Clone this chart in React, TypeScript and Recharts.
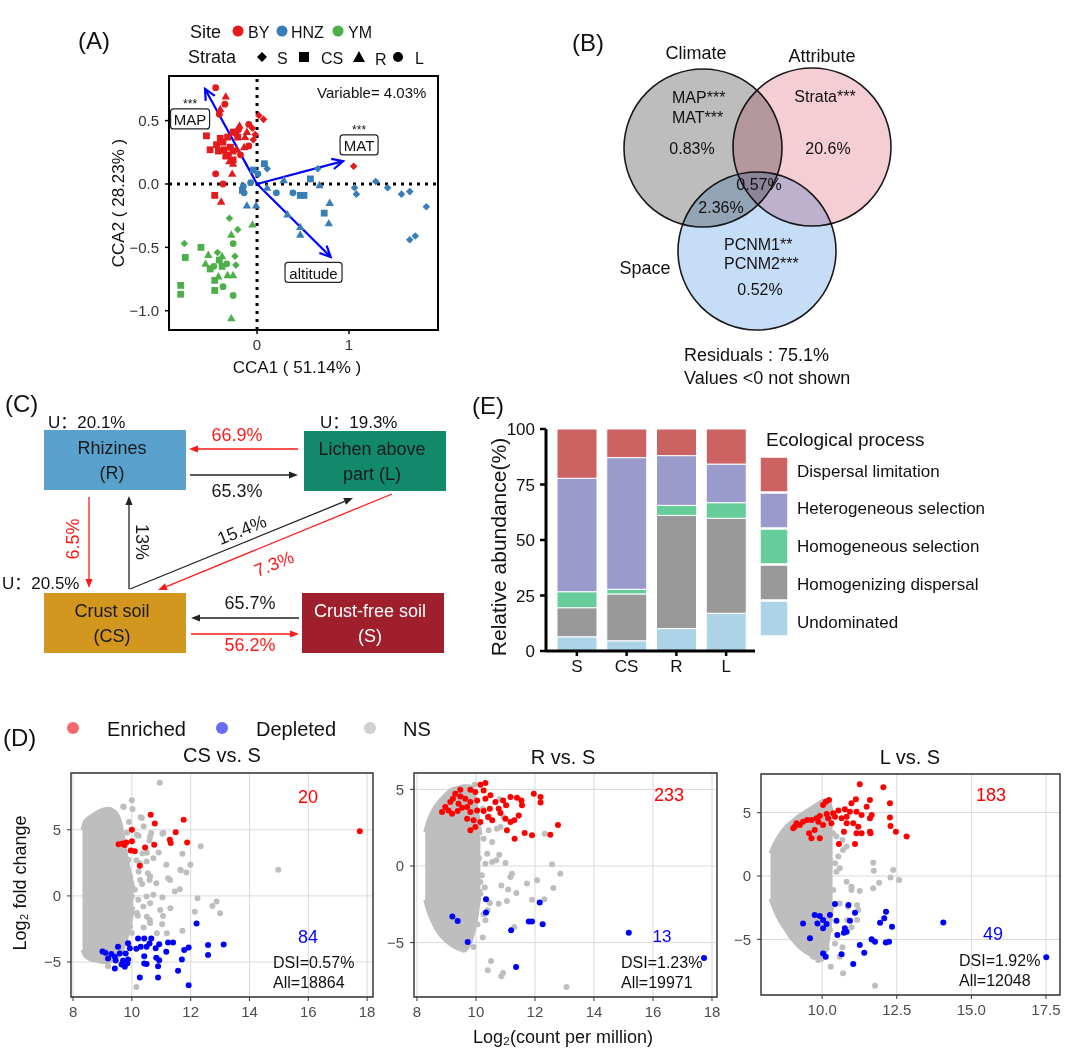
import React from "react";
import {
  ScatterChart,
  Scatter,
  XAxis,
  YAxis,
  ReferenceLine,
  ReferenceArea,
  BarChart,
  Bar,
  ComposedChart,
  Area,
  CartesianGrid,
} from "recharts";

const FONT = "Arial, 'Liberation Sans', 'Noto Sans CJK SC', sans-serif";
const minus = (v: number, d = 0) => (v < 0 ? "\u2212" : "") + Math.abs(v).toFixed(d);

// ---------- (A) CCA ordination ----------
const siteNames = ["BY", "HNZ", "YM"];
const siteColors = ["#e41a1c", "#377eb8", "#4daf4a"];
const strataNames = ["S", "CS", "R", "L"];

const byPoints: [number, number, string][] = [
  [-0.45, 0.76, "L"], [-0.34, 0.69, "R"], [-0.35, 0.63, "L"], [-0.4, 0.59, "R"], [-0.41, 0.55, "L"],
  [0.02, 0.54, "S"], [0.07, 0.51, "S"], [-0.09, 0.47, "L"], [-0.05, 0.44, "S"], [-0.19, 0.46, "R"],
  [-0.55, 0.38, "CS"], [-0.51, 0.27, "CS"], [-0.4, 0.36, "CS"], [-0.37, 0.33, "CS"], [-0.32, 0.37, "CS"],
  [-0.26, 0.41, "CS"], [-0.22, 0.4, "R"], [-0.2, 0.43, "L"], [-0.21, 0.37, "CS"], [-0.13, 0.37, "R"],
  [-0.11, 0.41, "R"], [-0.04, 0.35, "S"], [-0.09, 0.3, "L"], [-0.14, 0.29, "R"], [-0.44, 0.31, "CS"],
  [-0.36, 0.27, "CS"], [-0.29, 0.29, "CS"], [-0.26, 0.26, "CS"], [-0.31, 0.23, "L"], [-0.34, 0.22, "CS"],
  [-0.26, 0.19, "CS"], [-0.26, 0.16, "R"], [-0.18, 0.23, "L"], [-0.22, 0.27, "R"], [-0.45, 0.08, "L"],
  [-0.27, 0.08, "R"], [-0.37, 0.0, "L"], [-0.46, -0.09, "CS"], [-0.39, -0.14, "R"], [1.05, 0.14, "S"],
  [-0.02, 0.39, "S"], [-0.3, 0.18, "R"], [-0.42, 0.26, "CS"],
];
const hnzPoints: [number, number, string][] = [
  [0.08, 0.16, "CS"], [0.11, 0.12, "S"], [-0.04, 0.11, "CS"], [0.01, 0.08, "L"], [0.58, 0.04, "CS"],
  [0.66, 0.12, "S"], [0.29, 0.03, "R"], [-0.07, 0.01, "L"], [-0.15, -0.02, "L"], [-0.16, -0.05, "CS"],
  [-0.14, -0.07, "L"], [0.11, -0.03, "R"], [0.21, -0.07, "L"], [0.39, -0.07, "L"], [0.47, -0.09, "CS"],
  [0.51, -0.09, "CS"], [0.68, -0.01, "R"], [-0.11, -0.17, "R"], [-0.01, -0.17, "R"], [0.33, -0.24, "R"],
  [0.73, -0.23, "CS"], [0.79, -0.15, "R"], [0.78, -0.31, "R"], [0.47, -0.34, "R"], [0.47, -0.4, "R"],
  [1.06, -0.03, "S"], [1.08, -0.08, "S"], [1.29, 0.02, "S"], [1.42, -0.03, "S"], [1.57, -0.08, "S"],
  [1.66, -0.06, "S"], [1.84, -0.18, "S"], [1.66, -0.44, "S"], [1.72, -0.41, "S"],
];
const ymPoints: [number, number, string][] = [
  [-0.3, -0.27, "S"], [-0.21, -0.36, "S"], [-0.05, -0.32, "R"], [-0.28, -0.4, "R"], [-0.26, -0.47, "L"],
  [-0.79, -0.47, "S"], [-0.61, -0.5, "CS"], [-0.78, -0.58, "CS"], [-0.53, -0.56, "R"], [-0.43, -0.54, "S"],
  [-0.24, -0.57, "S"], [-0.23, -0.64, "S"], [-0.41, -0.6, "CS"], [-0.38, -0.65, "CS"], [-0.38, -0.57, "R"],
  [-0.33, -0.63, "L"], [-0.56, -0.63, "R"], [-0.51, -0.67, "CS"], [-0.46, -0.76, "CS"], [-0.42, -0.73, "R"],
  [-0.32, -0.72, "R"], [-0.26, -0.72, "R"], [-0.37, -0.81, "L"], [-0.46, -0.84, "CS"], [-0.26, -0.88, "L"],
  [-0.83, -0.8, "CS"], [-0.83, -0.87, "CS"], [-0.28, -1.06, "R"], [-0.47, -0.65, "L"],
];
const envVars = ["MAP", "MAT", "altitude"];
const envX = [-0.565, 0.935, 0.8];
const envY = [0.75, 0.18, -0.575];
const envLabelX = [-0.728, 1.109, 0.614];
const envLabelY = [0.513, 0.308, -0.698];
const envSig = ["***", "***", ""];

// ---------- (B) variation partitioning ----------
const vennSets = ["Climate", "Attribute", "Space"];
const vennCx = [143, 252, 197];
const vennCy = [148, 147, 251];
const vennR = [79, 79, 79];

// ---------- (C) source tracking flow ----------
const nodeLine1 = ["Rhizines", "Lichen above", "Crust soil", "Crust-free soil"];
const nodeLine2 = ["(R)", "part (L)", "(CS)", "(S)"];
const nodeX0 = [44, 304, 44, 302];
const nodeX1 = [186, 446, 186, 444];
const nodeY0 = [40, 41, 203, 203];
const nodeY1 = [100, 101, 263, 263];
const flowFrom = [[298, 59], [190, 85], [89, 107], [129, 199], [130, 199], [392, 104], [299, 228], [191, 244]];
const flowTo = [[189, 59], [298, 85], [89, 198], [129, 106], [353, 108], [158, 200], [191, 228], [299, 244]];
const flowRed = [true, false, true, false, false, true, false, true];
const flowText = ["66.9%", "65.3%", "6.5%", "13%", "15.4%", "7.3%", "65.7%", "56.2%"];
const flowTextX = [237, 237, 73, 142, 242, 274, 250, 250];
const flowTextY = [45, 101, 149, 152, 140, 174, 213, 255];
const flowTextRot = [0, 0, -90, 90, -22, -22, 0, 0];

// ---------- (E) ecological processes ----------
const strataCats = ["S", "CS", "R", "L"];
const undominated = [6.4, 4.6, 10.1, 17.0];
const homogenizing = [13.1, 21.1, 51.0, 42.8];
const homoSelection = [7.2, 2.1, 4.5, 7.0];
const heteroSelection = [51.1, 59.3, 22.4, 17.4];
const dispersalLim = [22.2, 12.9, 12.0, 15.8];
const processNames = [
  "Dispersal limitation",
  "Heterogeneous selection",
  "Homogeneous selection",
  "Homogenizing dispersal",
  "Undominated",
];

// ---------- (D) MA plots ----------
const csCloudX = [8.32, 8.4, 8.6, 8.8, 9.0, 9.2, 9.4, 9.6, 9.75, 9.9, 10.05];
const csCloudLo = [-4.1, -4.5, -4.8, -4.9, -5.0, -5.0, -4.8, -4.4, -3.6, -2.5, -0.8];
const csCloudHi = [5.0, 5.6, 6.0, 6.3, 6.5, 6.6, 6.4, 5.6, 3.8, 2.0, 0.6];
const csNs: [number, number][] = [
  [10.95, 8.56], [10.0, 7.24], [9.72, 6.73], [10.02, 6.58], [10.3, 5.95], [10.4, 5.27], [11.04, 4.71],
  [10.23, 4.56], [10.66, 4.76], [12.34, 3.75], [11.72, 3.19], [10.91, 3.29], [11.99, 2.35], [11.85, 1.77],
  [11.66, 1.95], [14.98, 1.97], [11.23, 1.34], [10.83, 0.96], [10.54, 1.72], [10.23, 1.85], [11.63, 0.51],
  [11.46, 0.33], [12.23, -0.18], [12.88, -0.43], [12.74, -0.76], [13.0, -1.32], [12.14, -1.19], [11.31, -0.94],
  [11.04, -0.1], [11.06, -1.52], [10.61, -1.82], [11.03, -2.15], [11.72, -2.63], [10.15, -6.89], [9.19, -5.32],
  [10.39, -0.81], [10.22, -0.3], [10.1, 0.46], [10.5, -0.05], [10.73, 0.08], [10.27, 2.47], [10.5, 2.6],
  [10.73, 2.85], [10.15, 2.7], [11.17, 2.35], [10.36, 3.2], [10.6, 4.2], [9.9, 5.6], [10.2, -1.5],
  [10.4, -2.4], [10.0, -2.8], [9.9, -1.0], [10.6, 1.2], [10.35, 0.9],
  [9.71, 6.77], [9.6, 5.15], [9.83, 4.77], [10.17, 4.62], [10.34, 5.9], [10.62, 4.5], [9.6, 3.26],
  [9.88, 2.73], [9.49, 1.97], [9.94, 1.46], [10.28, 1.21], [10.62, 1.46], [9.6, 0.45], [10.0, -0.05],
  [10.62, -0.55], [9.6, -1.06], [10.17, -1.3], [10.51, -1.57], [9.49, -2.05], [9.94, -2.32], [10.62, -2.05],
  [10.85, -2.83], [11.19, -2.83], [10.96, -1.06], [11.3, 1.21], [11.65, 1.97], [11.07, 4.77], [10.51, 3.26],
];
const csEnr: [number, number][] = [
  [10.64, 6.15], [10.78, 5.47], [11.76, 5.77], [10.0, 5.01], [11.49, 4.81], [11.29, 4.25], [11.32, 4.0],
  [11.88, 4.05], [10.76, 3.87], [10.45, 3.67], [9.68, 3.97], [9.81, 4.05], [10.0, 4.13], [9.96, 3.44],
  [10.1, 3.37], [10.27, 2.28], [17.75, 4.89], [9.55, 3.9], [9.75, 3.85],
];
const csDep: [number, number][] = [
  [12.2, -2.08], [10.21, -3.22], [10.42, -3.22], [10.66, -3.22], [10.93, -3.65], [11.23, -3.52], [11.4, -3.52],
  [12.59, -3.72], [13.12, -3.67], [12.59, -4.48], [11.93, -3.9], [11.78, -4.1], [11.17, -4.23], [10.83, -4.68],
  [10.81, -3.97], [10.42, -4.56], [10.5, -3.85], [10.3, -3.85], [10.15, -4.0], [9.87, -3.59], [9.93, -3.97],
  [9.79, -4.35], [9.53, -3.85], [9.59, -4.35], [9.42, -4.61], [9.19, -4.73], [9.0, -4.2], [9.1, -4.3],
  [9.45, -4.88], [9.7, -4.88], [9.85, -5.1], [9.87, -4.81], [9.76, -5.37], [9.42, -5.49], [10.42, -5.11],
  [10.5, -5.16], [10.89, -5.32], [10.93, -4.86], [11.7, -4.81], [11.57, -5.67], [10.27, -6.18], [10.89, -6.18],
  [11.93, -6.76], [9.65, -5.2], [9.3, -4.4], [10.6, -3.6],
];

const rCloudX = [8.28, 8.4, 8.6, 8.8, 9.0, 9.2, 9.4, 9.6, 9.8, 10.0, 10.15];
const rCloudLo = [-2.2, -3.0, -3.9, -4.5, -4.9, -5.2, -5.4, -5.5, -5.0, -3.5, -1.5];
const rCloudHi = [2.2, 3.0, 3.8, 4.3, 4.7, 5.0, 5.1, 5.2, 5.2, 4.0, 2.0];
const rNs: [number, number][] = [
  [9.96, 5.3], [10.81, 4.35], [10.24, 3.74], [10.45, 3.24], [10.83, 2.54], [10.71, 2.43], [10.43, 2.33],
  [10.04, 1.89], [10.26, 1.78], [10.55, 1.57], [10.79, 0.74], [10.38, 0.8], [10.55, 0.26], [10.69, 0.37],
  [11.0, 0.2], [10.32, 0.15], [10.04, 1.24], [12.33, 2.11], [12.58, 0.11], [12.86, -0.5], [12.07, -0.93],
  [11.73, -1.15], [11.37, -1.76], [11.09, -1.54], [10.86, -1.28], [11.22, -0.5], [11.17, -0.72], [12.32, -2.17],
  [11.9, -2.2], [12.62, -1.43], [11.05, -2.28], [10.77, -2.46], [10.47, -2.41], [10.15, -1.8], [10.4, -2.89],
  [10.26, -3.15], [10.32, -3.54], [9.81, -3.65], [9.58, -4.2], [9.41, -3.54], [11.3, -3.98], [10.23, -4.67],
  [10.51, -6.2], [10.4, -6.8], [10.86, -7.2], [10.92, -6.98], [13.07, -7.89], [9.92, -5.28], [9.58, -5.46],
  [9.36, -4.85], [10.94, 3.2], [9.92, -0.28], [10.15, -1.04],
  [10.1, 0.5], [10.2, -0.6], [9.95, -2.5], [10.1, 2.2], [9.9, 1.2], [10.3, -1.4], [10.05, -3.8],
  [9.7, -4.6], [10.0, 3.5],
];
const rEnr: [number, number][] = [
  [10.32, 5.41], [10.15, 5.3], [9.81, 4.98], [9.98, 4.83], [10.26, 4.93], [9.47, 4.54], [9.64, 4.39],
  [9.41, 4.07], [9.13, 4.17], [9.07, 3.63], [9.19, 3.41], [9.38, 3.59], [9.53, 3.8], [9.7, 3.85],
  [9.81, 3.52], [10.04, 3.63], [10.26, 3.59], [10.47, 3.74], [10.32, 4.39], [10.66, 4.17], [10.92, 4.28],
  [11.02, 3.96], [11.17, 4.5], [11.39, 4.46], [11.54, 4.28], [11.56, 3.96], [11.96, 4.72], [12.19, 4.5],
  [12.19, 4.15], [10.77, 3.74], [10.83, 3.46], [11.0, 3.09], [11.17, 2.87], [11.3, 2.98], [11.45, 3.3],
  [10.41, 3.2], [10.55, 2.98], [10.15, 2.87], [9.92, 2.98], [9.7, 3.09], [9.98, 2.54], [9.81, 2.33],
  [11.05, 2.33], [11.31, 1.78], [11.65, 2.15], [11.9, 2.0], [12.52, 2.04], [12.78, 2.67], [9.47, 4.98],
  [9.3, 4.72], [9.22, 4.39], [8.96, 3.85], [8.85, 3.52], [10.04, 4.28], [10.49, 4.61], [9.81, 4.17],
];
const rDep: [number, number][] = [
  [10.34, -2.17], [10.34, -3.04], [9.38, -3.59], [9.72, -4.96], [11.19, -4.2], [11.79, -3.63], [11.9, -3.63],
  [12.16, -2.39], [12.26, -3.8], [11.36, -6.59], [15.18, -4.35], [17.73, -6.0], [9.2, -3.3],
];

const lCloudX = [8.27, 8.4, 8.6, 8.8, 9.0, 9.2, 9.4, 9.6, 9.8, 10.0, 10.2, 10.35];
const lCloudLo = [-1.8, -2.6, -3.6, -4.3, -5.0, -5.5, -5.9, -6.2, -6.5, -6.6, -5.0, -2.0];
const lCloudHi = [1.8, 2.5, 3.3, 3.9, 4.3, 4.7, 5.0, 5.3, 5.6, 5.9, 6.0, 4.5];
const lNs: [number, number][] = [
  [11.71, 1.05], [11.73, 0.42], [12.38, 0.47], [12.29, -0.11], [12.58, -0.32], [11.91, -0.53], [11.71, -0.97],
  [11.26, -1.18], [10.98, -1.11], [10.82, -0.45], [10.98, -0.84], [10.59, 0.61], [10.48, 0.34], [10.43, 1.0],
  [10.26, 1.26], [10.15, 1.53], [10.03, 2.05], [10.54, 1.53], [10.7, 2.05], [10.82, 2.32], [10.37, 3.37],
  [10.48, 3.11], [10.68, 2.84], [11.17, -2.29], [11.21, -2.68], [10.87, -2.42], [10.84, -3.47], [11.17, -3.47],
  [10.98, -4.05], [11.66, -5.05], [10.68, -5.63], [10.59, -6.37], [10.29, -7.16], [10.7, -7.68], [11.77, -8.66],
  [10.15, -5.71], [9.92, -6.11], [9.87, -6.63], [9.7, -6.37], [10.26, -4.26], [10.43, -5.32], [10.15, -1.63],
  [10.37, -1.11], [10.59, -2.16],
  [9.95, 0.8], [10.1, -0.5], [9.9, -2.3], [10.05, 2.6], [9.85, -4.8], [10.2, -2.8], [10.0, 3.6],
];
const lEnr: [number, number][] = [
  [11.26, 7.24], [12.05, 7.0], [11.13, 6.05], [11.6, 6.0], [12.27, 5.74], [10.98, 5.74], [11.49, 5.47],
  [10.93, 5.08], [10.76, 5.26], [10.54, 5.16], [10.37, 4.95], [10.15, 4.89], [9.92, 4.74], [9.81, 4.55],
  [10.2, 4.55], [10.31, 4.16], [10.03, 4.03], [9.87, 4.29], [10.43, 4.68], [10.82, 4.68], [11.15, 5.08],
  [11.32, 4.82], [11.6, 4.55], [11.66, 4.82], [12.27, 4.61], [12.29, 3.95], [11.04, 4.16], [11.21, 3.89],
  [11.32, 3.37], [11.15, 3.37], [10.82, 4.16], [10.73, 3.5], [11.6, 3.5], [11.62, 3.37], [12.47, 3.5],
  [12.83, 3.11], [10.56, 2.53], [11.1, 2.53], [9.92, 2.97], [9.64, 2.97], [9.08, 3.89], [9.14, 4.16],
  [9.03, 3.76], [9.25, 4.03], [9.36, 4.29], [9.5, 4.42], [9.64, 4.42], [10.12, 5.87], [10.23, 6.0],
  [10.03, 5.61], [9.75, 3.63], [9.56, 3.37], [10.65, 4.55],
];
const lDep: [number, number][] = [
  [10.43, -2.21], [10.88, -2.29], [11.1, -2.89], [12.14, -2.82], [12.08, -3.34], [11.94, -3.68], [12.34, -4.0],
  [14.06, -3.66], [17.51, -6.42], [10.48, -3.53], [10.26, -3.08], [10.15, -3.79], [10.03, -3.47], [9.92, -3.16],
  [9.75, -3.08], [9.84, -3.74], [10.03, -4.13], [10.93, -3.53], [10.76, -4.13], [10.82, -4.39], [10.73, -4.47],
  [10.51, -4.66], [11.26, -5.45], [11.41, -6.05], [11.66, -5.0], [11.77, -5.18], [12.13, -5.24], [12.24, -5.18],
  [11.04, -6.95], [10.65, -6.18], [10.12, -6.37], [10.03, -6.11], [9.36, -3.74], [9.59, -4.92],
];

// ---------- styles ----------
const processColors = ["#cd6262", "#9a9acc", "#66cc99", "#999999", "#add3e6"];
const vennFill = ["#bdbdbd", "#f5cdd5", "#c6ddf7"];
const nodeFill = ["#58a1cd", "#11896a", "#d3961e", "#9f1f2c"];
const nodeText = ["#1a1a1a", "#1a1a1a", "#1a1a1a", "#ffffff"];
const labelBoxW: Record<string, number> = { MAP: 39, MAT: 38, altitude: 57 };
const RED = "#ff1a1a";

// ---------- helpers ----------
const toPts = (arr: [number, number][]) => arr.map(([x, y]) => ({ x, y }));
const toBand = (xs: number[], lo: number[], hi: number[]) =>
  xs.map((x, i) => ({ x, band: [lo[i], hi[i]] }));

function T({ x, y, s = 16, a = "start", c = "#111", r = 0, children }: any) {
  return (
    <text
      x={x}
      y={y}
      fontSize={s}
      textAnchor={a}
      fill={c}
      dominantBaseline="central"
      fontFamily={FONT}
      transform={r ? `rotate(${r} ${x} ${y})` : undefined}
    >
      {children}
    </text>
  );
}

const strataShape = (color: string) => (p: any) => {
  const { cx, cy } = p;
  const s = p.payload.s;
  if (s === "S")
    return <polygon points={`${cx},${cy - 3.8} ${cx + 3.8},${cy} ${cx},${cy + 3.8} ${cx - 3.8},${cy}`} fill={color} />;
  if (s === "CS") return <rect x={cx - 3.4} y={cy - 3.4} width={6.8} height={6.8} fill={color} />;
  if (s === "R")
    return <polygon points={`${cx},${cy - 4.4} ${cx + 4.2},${cy + 3} ${cx - 4.2},${cy + 3}`} fill={color} />;
  return <circle cx={cx} cy={cy} r={3.4} fill={color} />;
};

const openArrow = (p: any) => {
  const { x1, y1, x2, y2 } = p;
  const a = Math.atan2(y2 - y1, x2 - x1);
  const L = 12;
  const h1 = `${x2 - L * Math.cos(a - 0.45)},${y2 - L * Math.sin(a - 0.45)}`;
  const h2 = `${x2 - L * Math.cos(a + 0.45)},${y2 - L * Math.sin(a + 0.45)}`;
  return (
    <g>
      <line x1={x1} y1={y1} x2={x2} y2={y2} stroke="#0000ff" strokeWidth={2.2} />
      <polyline points={`${h1} ${x2},${y2} ${h2}`} fill="none" stroke="#0000ff" strokeWidth={2.2} />
    </g>
  );
};

const solidArrow = (color: string) => (p: any) => {
  const { x1, y1, x2, y2 } = p;
  const a = Math.atan2(y2 - y1, x2 - x1);
  const L = 9;
  const W = 3.6;
  const bx = x2 - L * Math.cos(a);
  const by = y2 - L * Math.sin(a);
  const nx = -Math.sin(a) * W;
  const ny = Math.cos(a) * W;
  return (
    <g>
      <line x1={x1} y1={y1} x2={bx} y2={by} stroke={color} strokeWidth={1.3} />
      <polygon points={`${x2},${y2} ${bx + nx},${by + ny} ${bx - nx},${by - ny}`} fill={color} />
    </g>
  );
};

const envLabelShape = (p: any) => {
  const { cx, cy, payload } = p;
  const w = labelBoxW[payload.name];
  return (
    <g>
      <rect x={cx - w / 2} y={cy - 10} width={w} height={20} rx={3} fill="#fff" stroke="#222" strokeWidth={1.2} />
      <text x={cx} y={cy + 1} textAnchor="middle" dominantBaseline="central" fontSize={15} fontFamily={FONT} fill="#111">
        {payload.name}
      </text>
      {payload.sig ? (
        <text x={cx} y={cy - 11} textAnchor="middle" fontSize={12} fontFamily={FONT} fill="#111">
          {payload.sig}
        </text>
      ) : null}
    </g>
  );
};

const dot = (fill: string, r: number) => (p: any) => <circle cx={p.cx} cy={p.cy} r={r} fill={fill} />;

// ---------- panels ----------
function PanelA() {
  const sites = [byPoints, hnzPoints, ymPoints];
  const labels = envVars.map((name, i) => ({ x: envLabelX[i], y: envLabelY[i], name, sig: envSig[i] }));
  const xd = [-0.957, 1.967];
  const yd = [-1.152, 0.852];
  return (
    <ScatterChart width={460} height={390} margin={{ top: 76, right: 22, bottom: 30, left: 119 }}>
      <XAxis
        type="number"
        dataKey="x"
        domain={xd}
        ticks={[0, 1]}
        allowDataOverflow
        height={30}
        axisLine={false}
        tickSize={4}
        tickMargin={5}
        tickLine={{ stroke: "#000", strokeWidth: 1.5 }}
        tick={{ fontSize: 15, fill: "#333", fontFamily: FONT }}
        tickFormatter={(v: number) => minus(v)}
      />
      <YAxis
        type="number"
        dataKey="y"
        domain={yd}
        ticks={[-1, -0.5, 0, 0.5]}
        allowDataOverflow
        width={50}
        axisLine={false}
        tickSize={4}
        tickMargin={6}
        tickLine={{ stroke: "#000", strokeWidth: 1.5 }}
        tick={{ fontSize: 15, fill: "#333", fontFamily: FONT }}
        tickFormatter={(v: number) => minus(v, 1)}
      />
      <ReferenceLine x={0} stroke="#000" strokeWidth={3} strokeDasharray="3 5" />
      <ReferenceLine y={0} stroke="#000" strokeWidth={3} strokeDasharray="3 5" />
      {sites.map((pts, i) => (
        <Scatter
          key={siteNames[i]}
          data={pts.map(([x, y, s]) => ({ x, y, s }))}
          shape={strataShape(siteColors[i])}
          isAnimationActive={false}
        />
      ))}
      {envVars.map((v, i) => (
        <ReferenceLine
          key={v}
          segment={[{ x: 0, y: 0 }, { x: envX[i], y: envY[i] }]}
          shape={openArrow}
          ifOverflow="visible"
        />
      ))}
      <Scatter data={labels} shape={envLabelShape} isAnimationActive={false} />
      <ReferenceArea x1={xd[0]} x2={xd[1]} y1={yd[0]} y2={yd[1]} fill="none" stroke="#000" strokeWidth={2} ifOverflow="visible" />
    </ScatterChart>
  );
}

function PanelB() {
  const data = vennSets.map((name, i) => ({ x: vennCx[i], y: vennCy[i], r: vennR[i], i }));
  return (
    <ScatterChart width={400} height={390} margin={{ top: 0, right: 0, bottom: 0, left: 0 }}>
      <XAxis type="number" dataKey="x" domain={[0, 400]} hide />
      <YAxis type="number" dataKey="y" domain={[0, 390]} reversed hide />
      <Scatter
        data={data}
        isAnimationActive={false}
        shape={(p: any) => (
          <circle
            cx={p.cx}
            cy={p.cy}
            r={p.payload.r}
            fill={vennFill[p.payload.i]}
            stroke="#1a1a1a"
            strokeWidth={1.6}
            style={{ mixBlendMode: "multiply" }}
          />
        )}
      />
    </ScatterChart>
  );
}

function PanelC() {
  const nodes = nodeLine1.map((l1, i) => ({
    x: (nodeX0[i] + nodeX1[i]) / 2 - 3,
    y: (nodeY0[i] + nodeY1[i]) / 2,
    l1,
    l2: nodeLine2[i],
    i,
  }));
  const labels = flowText.map((t, i) => ({ x: flowTextX[i], y: flowTextY[i], t, i }));
  return (
    <ScatterChart width={460} height={280} margin={{ top: 0, right: 0, bottom: 0, left: 0 }}>
      <XAxis type="number" dataKey="x" domain={[0, 460]} hide />
      <YAxis type="number" dataKey="y" domain={[0, 280]} reversed hide />
      {nodeLine1.map((n, i) => (
        <ReferenceArea
          key={n}
          x1={nodeX0[i]}
          x2={nodeX1[i]}
          y1={nodeY0[i]}
          y2={nodeY1[i]}
          fill={nodeFill[i]}
          fillOpacity={1}
          stroke="none"
        />
      ))}
      {flowFrom.map((f, i) => (
        <ReferenceLine
          key={i}
          segment={[{ x: f[0], y: f[1] }, { x: flowTo[i][0], y: flowTo[i][1] }]}
          shape={solidArrow(flowRed[i] ? RED : "#222")}
        />
      ))}
      <Scatter
        data={nodes}
        isAnimationActive={false}
        shape={(p: any) => (
          <g>
            <T x={p.cx} y={p.cy - 12} s={18} a="middle" c={nodeText[p.payload.i]}>{p.payload.l1}</T>
            <T x={p.cx} y={p.cy + 13} s={18} a="middle" c={nodeText[p.payload.i]}>{p.payload.l2}</T>
          </g>
        )}
      />
      <Scatter
        data={labels}
        isAnimationActive={false}
        shape={(p: any) => (
          <T x={p.cx} y={p.cy} s={18} a="middle" r={flowTextRot[p.payload.i]} c={flowRed[p.payload.i] ? RED : "#1a1a1a"}>
            {p.payload.t}
          </T>
        )}
      />
    </ScatterChart>
  );
}

function PanelE() {
  const data = strataCats.map((name, i) => ({
    name,
    und: undominated[i],
    hd: homogenizing[i],
    hs: homoSelection[i],
    het: heteroSelection[i],
    dl: dispersalLim[i],
  }));
  const keys = ["und", "hd", "hs", "het", "dl"];
  const colorOf: Record<string, string> = {
    dl: processColors[0],
    het: processColors[1],
    hs: processColors[2],
    hd: processColors[3],
    und: processColors[4],
  };
  return (
    <BarChart width={620} height={290} data={data} barSize={40} margin={{ top: 39, right: 325, bottom: 0, left: 40 }}>
      <XAxis
        dataKey="name"
        height={29}
        padding={{ left: 6, right: 4 }}
        axisLine={{ stroke: "#000", strokeWidth: 3 }}
        tickLine={{ stroke: "#000", strokeWidth: 2.5 }}
        tickSize={5}
        tickMargin={4}
        tick={{ fontSize: 17, fill: "#111", fontFamily: FONT }}
      />
      <YAxis
        type="number"
        domain={[0, 100]}
        ticks={[0, 25, 50, 75, 100]}
        width={46}
        axisLine={{ stroke: "#000", strokeWidth: 3 }}
        tickLine={{ stroke: "#000", strokeWidth: 2.5 }}
        tickSize={6}
        tickMargin={5}
        tick={{ fontSize: 17, fill: "#111", fontFamily: FONT }}
      />
      {keys.map((k) => (
        <Bar key={k} dataKey={k} stackId="a" fill={colorOf[k]} stroke="#fff" strokeWidth={1} isAnimationActive={false} />
      ))}
    </BarChart>
  );
}

function MAPlot({ w, h, margin, yW, xDomain, yDomain, xTicks, cloud, ns, enr, dep, fmtX }: any) {
  return (
    <ComposedChart width={w} height={h} margin={margin} data={cloud}>
      <CartesianGrid stroke="#d9d9d9" strokeWidth={1} />
      <XAxis
        type="number"
        dataKey="x"
        domain={xDomain}
        ticks={xTicks}
        allowDataOverflow
        height={28}
        axisLine={false}
        tickSize={4}
        tickMargin={5}
        tickLine={{ stroke: "#333" }}
        tick={{ fontSize: 15, fill: "#4d4d4d", fontFamily: FONT }}
        tickFormatter={fmtX}
      />
      <YAxis
        type="number"
        domain={yDomain}
        ticks={[-5, 0, 5]}
        allowDataOverflow
        width={yW}
        axisLine={false}
        tickSize={4}
        tickMargin={6}
        tickLine={{ stroke: "#333" }}
        tick={{ fontSize: 15, fill: "#4d4d4d", fontFamily: FONT }}
        tickFormatter={(v: number) => minus(v)}
      />
      <Area
        type="monotone"
        dataKey="band"
        stroke="#bebebe"
        strokeWidth={4}
        strokeLinejoin="round"
        fill="#bebebe"
        fillOpacity={1}
        isAnimationActive={false}
      />
      <Scatter data={ns} dataKey="y" shape={dot("#bebebe", 3)} isAnimationActive={false} />
      <Scatter data={enr} dataKey="y" shape={dot("#ff0000", 3)} isAnimationActive={false} />
      <Scatter data={dep} dataKey="y" shape={dot("#0000ff", 3)} isAnimationActive={false} />
      <ReferenceArea
        x1={xDomain[0]}
        x2={xDomain[1]}
        y1={yDomain[0]}
        y2={yDomain[1]}
        fill="none"
        stroke="#333"
        strokeWidth={1.4}
        ifOverflow="visible"
      />
    </ComposedChart>
  );
}

function Overlay() {
  const legendE = processNames.map((n, i) => (
    <g key={n}>
      <rect x={760} y={457 + i * 36} width={28} height={35} fill={processColors[i]} stroke="#fff" strokeWidth={1.5} />
      <T x={797} y={471 + i * 37.8} s={17}>{n}</T>
    </g>
  ));
  return (
    <svg width={1080} height={1055} style={{ position: "absolute", left: 0, top: 0, pointerEvents: "none" }}>
      {/* (A) */}
      <T x={78} y={40} s={24}>(A)</T>
      <T x={190} y={32} s={18}>Site</T>
      <circle cx={238} cy={31} r={5.5} fill={siteColors[0]} />
      <T x={248} y={32} s={16}>BY</T>
      <circle cx={282} cy={31} r={5.5} fill={siteColors[1]} />
      <T x={291} y={32} s={16}>HNZ</T>
      <circle cx={338} cy={31} r={5.5} fill={siteColors[2]} />
      <T x={348} y={32} s={16}>YM</T>
      <T x={188} y={57} s={18}>Strata</T>
      <polygon points="262,52 267,57 262,62 257,57" fill="#000" />
      <T x={277} y={58} s={16}>{strataNames[0]}</T>
      <rect x={299} y={52} width={10} height={10} fill="#000" />
      <T x={321} y={58} s={16}>{strataNames[1]}</T>
      <polygon points="359,51 365,62 353,62" fill="#000" />
      <T x={375} y={59} s={16}>{strataNames[2]}</T>
      <circle cx={398} cy={57} r={5} fill="#000" />
      <T x={415} y={58} s={16}>{strataNames[3]}</T>
      <T x={317} y={92} s={15}>Variable= 4.03%</T>
      <T x={297} y={367} s={17} a="middle">CCA1 ( 51.14% )</T>
      <T x={118} y={203} s={17} a="middle" r={-90}>CCA2 ( 28.23% )</T>

      {/* (B) */}
      <T x={572} y={42} s={24}>(B)</T>
      <T x={696} y={53} s={18} a="middle">{vennSets[0]}</T>
      <T x={822} y={56} s={18} a="middle">{vennSets[1]}</T>
      <T x={645} y={268} s={18} a="middle">{vennSets[2]}</T>
      <T x={672} y={97} s={16}>MAP***</T>
      <T x={672} y={117} s={16}>MAT***</T>
      <T x={692} y={148} s={16} a="middle">0.83%</T>
      <T x={825} y={96} s={16} a="middle">Strata***</T>
      <T x={828} y={148} s={16} a="middle">20.6%</T>
      <T x={759} y={184} s={16} a="middle">0.57%</T>
      <T x={721} y={207} s={16} a="middle">2.36%</T>
      <T x={724} y={244} s={16}>PCNM1**</T>
      <T x={724} y={263} s={16}>PCNM2***</T>
      <T x={760} y={289} s={16} a="middle">0.52%</T>
      <T x={684} y={355} s={18}>Residuals : 75.1%</T>
      <T x={684} y={378} s={18}>Values &lt;0 not shown</T>

      {/* (C) */}
      <T x={5} y={403} s={24}>(C)</T>
      <T x={48} y={422} s={17}>U：20.1%</T>
      <T x={320} y={422} s={17}>U：19.3%</T>
      <T x={2} y={583} s={17}>U：20.5%</T>

      {/* (E) */}
      <T x={472} y={405} s={24}>(E)</T>
      <T x={498} y={547} s={21} a="middle" r={-90}>Relative abundance(%)</T>
      <T x={766} y={439} s={19}>Ecological process</T>
      {legendE}

      {/* (D) */}
      <T x={3} y={737} s={24}>(D)</T>
      <circle cx={73} cy={728} r={6} fill="#f46a6a" />
      <T x={107} y={729} s={20}>Enriched</T>
      <circle cx={222} cy={728} r={6} fill="#6a6af4" />
      <T x={256} y={729} s={20}>Depleted</T>
      <circle cx={370} cy={728} r={6} fill="#d0d0d0" />
      <T x={403} y={729} s={20}>NS</T>
      <T x={222} y={755} s={20} a="middle">CS vs. S</T>
      <T x={563} y={757} s={20} a="middle">R vs. S</T>
      <T x={910} y={757} s={20} a="middle">L vs. S</T>
      <T x={20} y={883} s={18} a="middle" r={-90}>Log₂ fold change</T>
      <T x={563} y={1037} s={18} a="middle">Log₂(count per million)</T>
      <T x={308} y={797} s={18} a="middle" c="#ff0000">20</T>
      <T x={308} y={937} s={18} a="middle" c="#0000ff">84</T>
      <T x={273} y={962} s={16}>DSI=0.57%</T>
      <T x={273} y={982} s={16}>All=18864</T>
      <T x={669} y={795} s={18} a="middle" c="#ff0000">233</T>
      <T x={662} y={936} s={17} a="middle" c="#0000ff">13</T>
      <T x={621} y={962} s={16}>DSI=1.23%</T>
      <T x={621} y={982} s={16}>All=19971</T>
      <T x={991} y={795} s={18} a="middle" c="#ff0000">183</T>
      <T x={993} y={934} s={18} a="middle" c="#0000ff">49</T>
      <T x={959} y={960} s={16}>DSI=1.92%</T>
      <T x={959} y={980} s={16}>All=12048</T>
    </svg>
  );
}

export default function App() {
  const abs = (left: number, top: number) => ({ position: "absolute" as const, left, top });
  return (
    <div style={{ position: "relative", width: 1080, height: 1055, background: "#fff", overflow: "hidden", fontFamily: FONT }}>
      <style>{"body{margin:0}"}</style>
      <div style={abs(0, 0)}>
        <PanelA />
      </div>
      <div style={abs(560, 0)}>
        <PanelB />
      </div>
      <div style={abs(0, 390)}>
        <PanelC />
      </div>
      <div style={abs(460, 390)}>
        <PanelE />
      </div>
      <div style={abs(0, 760)}>
        <MAPlot
          w={380}
          h={270}
          margin={{ top: 13, right: 7, bottom: 5, left: 36 }}
          yW={35}
          xDomain={[7.93, 18.2]}
          yDomain={[-7.65, 9.3]}
          xTicks={[8, 10, 12, 14, 16, 18]}
          cloud={toBand(csCloudX, csCloudLo, csCloudHi)}
          ns={toPts(csNs)}
          enr={toPts(csEnr)}
          dep={toPts(csDep)}
          fmtX={(v: number) => String(v)}
        />
      </div>
      <div style={abs(380, 760)}>
        <MAPlot
          w={345}
          h={270}
          margin={{ top: 13, right: 8, bottom: 5, left: 2 }}
          yW={32}
          xDomain={[7.9, 18.17]}
          yDomain={[-8.55, 6.07]}
          xTicks={[8, 10, 12, 14, 16, 18]}
          cloud={toBand(rCloudX, rCloudLo, rCloudHi)}
          ns={toPts(rNs)}
          enr={toPts(rEnr)}
          dep={toPts(rDep)}
          fmtX={(v: number) => String(v)}
        />
      </div>
      <div style={abs(725, 760)}>
        <MAPlot
          w={355}
          h={270}
          margin={{ top: 14, right: 20, bottom: 7, left: 2 }}
          yW={34}
          xDomain={[7.95, 17.97]}
          yDomain={[-9.39, 8.05]}
          xTicks={[10, 12.5, 15, 17.5]}
          cloud={toBand(lCloudX, lCloudLo, lCloudHi)}
          ns={toPts(lNs)}
          enr={toPts(lEnr)}
          dep={toPts(lDep)}
          fmtX={(v: number) => v.toFixed(1)}
        />
      </div>
      <Overlay />
    </div>
  );
}
